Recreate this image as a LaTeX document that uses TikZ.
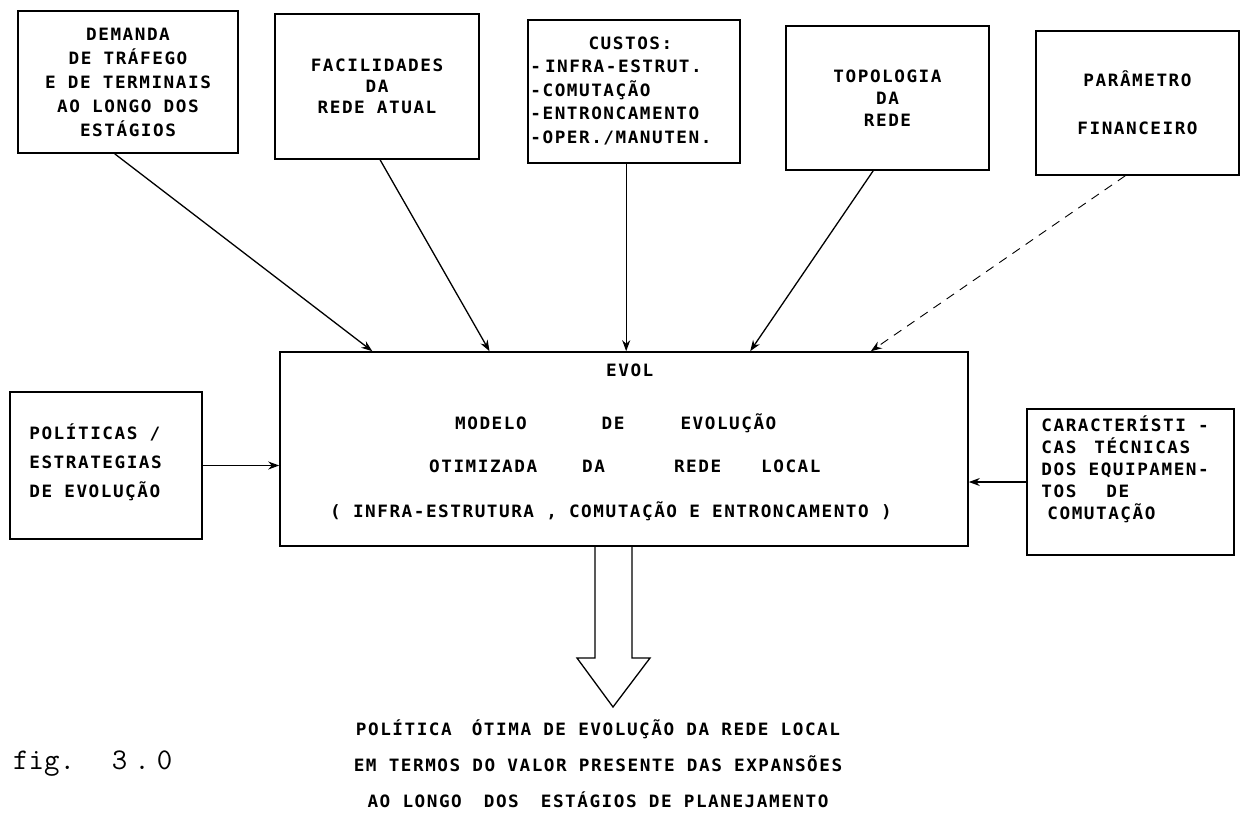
\documentclass[tikz,border=0pt]{standalone}
\usepackage{fontspec}
\usetikzlibrary{arrows.meta,calc}
\newfontfamily\plotfont{DejaVu Sans Mono}[FakeStretch=1.04,LetterSpace=9]

\begin{document}
\begin{tikzpicture}[x=1pt,y=-1pt,
  every node/.style={font=\plotfont\bfseries\fontsize{17}{23}\selectfont},
  box/.style={draw, line width=1.6pt, inner sep=0pt, align=center},
  lefttext/.style={anchor=west, inner sep=0pt, align=left},
  rowtext/.style={anchor=base west, inner sep=0pt},
  feed/.style={line width=1.3pt, -{Stealth[length=11pt,width=8pt]}},
  faint/.style={line width=0.9pt, dash pattern=on 9pt off 7pt, -{Stealth[length=11pt,width=8pt]}},
  bigarrow/.style={line width=1.3pt, line join=miter}
]
\useasboundingbox (0,0) rectangle (1241,836);

% input boxes along the top
\node[box, minimum width=220pt, minimum height=142pt,
      font=\plotfont\bfseries\fontsize{17}{24}\selectfont] (dem) at (128,82)
  {DEMANDA\\DE TRÁFEGO\\E DE TERMINAIS\\AO LONGO DOS\\ESTÁGIOS};
\node[box, minimum width=204pt, minimum height=145pt,
      font=\plotfont\bfseries\fontsize{17}{21}\selectfont] (fac) at (377,86.5)
  {FACILIDADES\\DA\\REDE ATUAL};
\node[box, minimum width=212pt, minimum height=143pt] (cus) at (634,91.5) {};
\node[lefttext, font=\plotfont\bfseries\fontsize{17}{23.5}\selectfont] (custext) at ($(cus.west)+(3,-1)$)
  {\makebox[200pt]{CUSTOS:}\\-\kern4pt INFRA-ESTRUT.\\-COMUTAÇÃO\\-ENTRONCAMENTO\\-OPER./MANUTEN.};
\node[box, minimum width=203pt, minimum height=144pt,
      font=\plotfont\bfseries\fontsize{17}{22}\selectfont] (top) at (887.5,98)
  {TOPOLOGIA\\DA\\REDE};
\node[box, minimum width=203pt, minimum height=144pt,
      font=\plotfont\bfseries\fontsize{17}{48}\selectfont] (par) at (1137.5,103)
  {PARÂMETRO\\FINANCEIRO};

% side inputs
\node[box, minimum width=192pt, minimum height=147pt] (pol) at (106,465.5) {};
\node[lefttext, font=\plotfont\bfseries\fontsize{17}{29}\selectfont] (poltext) at ($(pol.west)+(20,-3)$)
  {POLÍTICAS /\\ESTRATEGIAS\\DE EVOLUÇÃO};
\node[box, minimum width=207pt, minimum height=146pt] (car) at (1130.5,482) {};
\node[lefttext, font=\plotfont\bfseries\fontsize{17}{22}\selectfont] (cartext) at ($(car.west)+(15,-13)$)
  {CARACTERÍSTI -\\CAS\hspace{18pt}TÉCNICAS\\DOS EQUIPAMEN-\\TOS\hspace{30pt}DE\\\hspace{6pt}COMUTAÇÃO};

% central model
\node[box, minimum width=688pt, minimum height=194pt] (evol) at (624,449) {};
\node[rowtext] (m1) at (606,376) {EVOL};
\node[rowtext] (m2) at (455,429) {MODELO\hspace{75pt}DE\hspace{56pt}EVOLUÇÃO};
\node[rowtext] (m3) at (429,472) {OTIMIZADA\hspace{45pt}DA\hspace{69pt}REDE\hspace{40pt}LOCAL};
\node[rowtext] (m4) at (330,517) {( INFRA-ESTRUTURA , COMUTAÇÃO E ENTRONCAMENTO )};

% connectors into the model
\draw[feed] ($(dem.south west)!0.44!(dem.south east)$) -- ($(evol.north west)!0.135!(evol.north east)$);
\draw[feed] ($(fac.south west)!0.515!(fac.south east)$) -- ($(evol.north west)!0.305!(evol.north east)$);
\coordinate (cusout) at ($(cus.south west)+(99,0)$);
\draw[feed] (cusout) -- (cusout |- evol.north);
\draw[feed] ($(top.south west)!0.43!(top.south east)$) -- ($(evol.north west)!0.683!(evol.north east)$);
\draw[faint] ($(par.south west)!0.44!(par.south east)$) -- ($(evol.north west)!0.858!(evol.north east)$);
\draw[feed] (pol.east) -- (pol.east -| evol.west);
\draw[feed] (car.west) -- (car.west -| evol.east);

% result
\node[align=center, font=\plotfont\bfseries\fontsize{17}{36}\selectfont] (res) at (598,764)
  {POLÍTICA\hspace{20pt}ÓTIMA DE EVOLUÇÃO DA REDE LOCAL\\
   EM TERMOS DO VALOR PRESENTE DAS EXPANSÕES\\
   AO LONGO\hspace{22pt}DOS\hspace{22pt}ESTÁGIOS DE PLANEJAMENTO};

% hollow output arrow
\coordinate (tip) at (613,707);
\coordinate (sl) at (595,658);
\coordinate (sr) at (632,658);
\draw[bigarrow] (sl |- evol.south) -- (sl) -- ++(-18,0) -- (tip) -- ($(sr)+(18,0)$) -- (sr) -- (sr |- evol.south);

% caption
\node[anchor=base west, inner sep=0pt, font=\ttfamily\fontsize{30}{30}\selectfont] (cap) at (13,769)
  {fig.\hspace{37pt}3\kern7pt.\kern7pt0};
\end{tikzpicture}
\end{document}
